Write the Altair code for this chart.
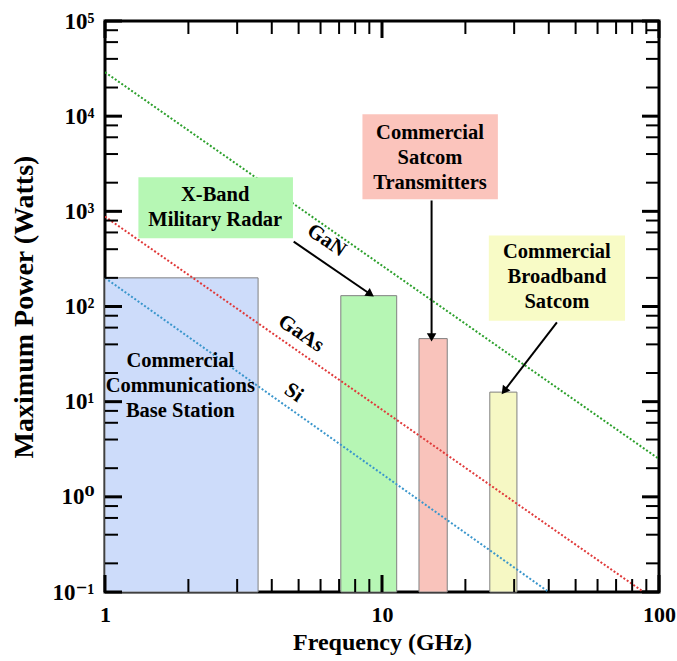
import math
import altair as alt
import pandas as pd

# ---------------- data ----------------
X_DOMAIN = [1, 100]
Y_DOMAIN = [0.1, 1e5]

# technology power limits (dotted lines) - endpoints
line_names = ["GaN", "GaN", "GaAs", "GaAs", "Si", "Si"]
line_freq = [1, 100, 1, 88, 1, 40]
line_power = [29000, 2.5, 880, 0.1, 200, 0.1]

# line labels
lab_names = ["GaN", "GaAs", "Si"]
lab_freq = [6.3, 5.1, 4.8]
lab_power = [495, 52, 12.4]

# application bands (bars)
band_names = ["Base", "XBand", "Satcom", "Broadband"]
band_f_lo = [1, 7.1, 13.6, 24.5]
band_f_hi = [3.57, 11.3, 17.2, 30.7]
band_p_top = [200, 130, 46, 12.6]
band_colors = ["#cddcfa", "#b6f6b4", "#f9c3bb", "#f6f8c4"]

# callout boxes
box_names = ["XBand", "Satcom", "Broadband"]
box_f_lo = [1.32, 8.5, 24.3]
box_f_hi = [4.77, 26.2, 75.4]
box_p_lo = [520, 1340, 71]
box_p_hi = [2280, 10500, 558]
box_colors = ["#b6f7b4", "#fbc4bc", "#f8fbc6"]

# callout texts (anchored at first line)
txt_lines = ["X-Band\nMilitary Radar",
             "Commercial\nSatcom\nTransmitters",
             "Commercial\nBroadband\nSatcom",
             "Commercial\nCommunications\nBase Station"]
txt_freq = [2.5, 14.9, 42.8, 1.87]
txt_power = [1473, 6627, 370, 27]

# arrows
arr_f1 = [4.8, 15.1, 42.8]
arr_p1 = [480, 1300, 68]
arr_f2 = [9.0, 15.1, 27.8]
arr_p2 = [137, 49, 13.3]

# ticks
x_major = [1, 10, 100]
x_minor = [2, 3, 4, 5, 6, 7, 8, 9, 20, 30, 40, 50, 60, 70, 80, 90]
y_major = [0.1, 1, 10, 100, 1000, 10000, 100000]
y_minor = [m * d for d in [0.1, 1, 10, 100, 1000, 10000] for m in (2, 4, 6, 8)]
y_labels = ["10⁻¹", "10⁰", "10¹", "10²", "10³", "10⁴", "10⁵"]

# ---------------- chart ----------------
W, H = 554, 571
FONT = "Times New Roman, Liberation Serif, DejaVu Serif, serif"

xs = alt.Scale(type="log", domain=X_DOMAIN, nice=False)
ys = alt.Scale(type="log", domain=Y_DOMAIN, nice=False)

y_expr = " : ".join(
    f"datum.value < {v * 1.5} ? '{t}'" for v, t in zip(y_major, y_labels)
) + " : ''"

x_axis = alt.Axis(values=x_major, title="Frequency (GHz)", ticks=False, domain=False,
                  grid=False, labelFont=FONT, labelFontSize=22, labelFontWeight="bold",
                  labelPadding=12, labelColor="black", titleFont=FONT, titleFontSize=24,
                  titleFontWeight="bold", titlePadding=5, titleColor="black",
                  labelFlush=False, format="d")
y_axis = alt.Axis(values=y_major, title="Maximum Power (Watts)", ticks=False, domain=False,
                  grid=False, labelFont=FONT, labelFontSize=23, labelFontWeight="bold",
                  labelPadding=11, labelColor="black", labelExpr=y_expr,
                  titleFont=FONT, titleFontSize=28, titleFontWeight="bold",
                  titlePadding=13, titleColor="black", labelFlush=False)


def X(field):
    return alt.X(field, scale=xs, axis=x_axis)


def Y(field):
    return alt.Y(field, scale=ys, axis=y_axis)


bands = pd.DataFrame({"name": band_names, "f0": band_f_lo, "f1": band_f_hi,
                      "p0": [Y_DOMAIN[0]] * 4, "p1": band_p_top})
bars = alt.Chart(bands).mark_rect(stroke="#808080", strokeWidth=1).encode(
    x=X("f0:Q"), x2="f1:Q", y=Y("p0:Q"), y2="p1:Q",
    color=alt.Color("name:N", scale=alt.Scale(domain=band_names, range=band_colors), legend=None),
)

lines_df = pd.DataFrame({"name": line_names, "f": line_freq, "p": line_power})
lines = alt.Chart(lines_df).mark_line(strokeDash=[2, 2], strokeWidth=2, clip=True).encode(
    x=X("f:Q"), y=Y("p:Q"),
    detail="name:N",
    stroke=alt.Stroke("name:N", scale=alt.Scale(domain=["GaN", "GaAs", "Si"],
                                                range=["#2ca02c", "#e03a3a", "#3a96cc"]),
                      legend=None),
)

labs_df = pd.DataFrame({"name": lab_names, "f": lab_freq, "p": lab_power})
line_labels = alt.Chart(labs_df).mark_text(font=FONT, fontSize=21, fontWeight="bold",
                                           angle=34, color="black").encode(
    x=X("f:Q"), y=Y("p:Q"), text="name:N",
)

boxes_df = pd.DataFrame({"name": box_names, "f0": box_f_lo, "f1": box_f_hi,
                         "p0": box_p_lo, "p1": box_p_hi})
boxes = alt.Chart(boxes_df).mark_rect().encode(
    x=X("f0:Q"), x2="f1:Q", y=Y("p0:Q"), y2="p1:Q",
    fill=alt.Fill("name:N", scale=alt.Scale(domain=box_names, range=box_colors), legend=None),
)

txt_df = pd.DataFrame({"t": txt_lines, "f": txt_freq, "p": txt_power})
texts = alt.Chart(txt_df).mark_text(font=FONT, fontSize=20.5, fontWeight="bold",
                                    lineBreak="\n", lineHeight=25, color="black").encode(
    x=X("f:Q"), y=Y("p:Q"), text="t:N",
)

arr_df = pd.DataFrame({"f1": arr_f1, "p1": arr_p1, "f2": arr_f2, "p2": arr_p2})


def _ang(r):
    dx = W * math.log10(r.f2 / r.f1) / 2.0
    dy = -H * math.log10(r.p2 / r.p1) / 6.0
    return math.degrees(math.atan2(dx, -dy)) % 360


arr_df["ang"] = arr_df.apply(_ang, axis=1)
arrow_lines = alt.Chart(arr_df).mark_rule(strokeWidth=2, color="black").encode(
    x=X("f1:Q"), x2="f2:Q", y=Y("p1:Q"), y2="p2:Q",
)
arrow_heads = alt.Chart(arr_df).mark_point(shape="triangle", filled=True, size=90,
                                           color="black", opacity=1).encode(
    x=X("f2:Q"), y=Y("p2:Q"),
    angle=alt.Angle("ang:Q", scale=None),
)


def xticks(vals, length, sw):
    df = pd.DataFrame({"v": vals})
    base = alt.Chart(df).mark_rule(color="black", strokeWidth=sw)
    bottom = base.encode(x=X("v:Q"), y=alt.value(H), y2=alt.value(H - length))
    top = base.encode(x=X("v:Q"), y=alt.value(0), y2=alt.value(length))
    return [bottom, top]


def yticks(vals, length, sw):
    df = pd.DataFrame({"v": vals})
    base = alt.Chart(df).mark_rule(color="black", strokeWidth=sw)
    left = base.encode(y=Y("v:Q"), x=alt.value(0), x2=alt.value(length))
    right = base.encode(y=Y("v:Q"), x=alt.value(W), x2=alt.value(W - length))
    return [left, right]


tick_layers = (xticks(x_minor, 13, 2) + xticks(x_major, 17, 3)
               + yticks(y_minor, 13, 2) + yticks(y_major, 17, 3))

chart = alt.layer(
    bars, lines, line_labels, boxes, texts, arrow_lines, arrow_heads, *tick_layers
).resolve_scale(color="independent", fill="independent", stroke="independent").properties(
    width=W, height=H,
    autosize=alt.AutoSizeParams(type="none"),
    padding={"left": 105, "top": 21, "right": 18, "bottom": 69},
    background="white",
).configure_view(stroke="black", strokeWidth=3)

chart.save("out.html", embed_options={"renderer": "svg", "actions": False})
